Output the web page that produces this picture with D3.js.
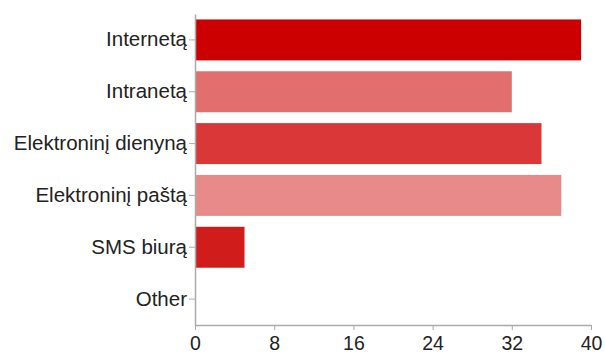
<!DOCTYPE html>
<html lang="lt">
<head>
<meta charset="UTF-8">
<title>Bar chart</title>
<script src="https://d3js.org/d3.v7.min.js"></script>
<style>
  body { margin: 0; background: #fff; }
  text { font-family: "Liberation Sans", Arial, sans-serif; }
</style>
</head>
<body>
<svg id="chart" width="605" height="354"></svg>
<script>
const categories = ["Internetą", "Intranetą", "Elektroninį dienyną", "Elektroninį paštą", "SMS biurą", "Other"];
const values = [39, 32, 35, 37, 5, 0];
const colors = ["#cc0000", "#e36e6e", "#da3838", "#e88a8a", "#d11c1c", "#cc0000"];
const xTicks = [0, 8, 16, 24, 32, 40];

const svg = d3.select("#chart");
const margin = {top: 14, right: 14, bottom: 29, left: 195};
const width = +svg.attr("width") - margin.left - margin.right;
const height = +svg.attr("height") - margin.top - margin.bottom;

const g = svg.append("g")
    .attr("transform", `translate(${margin.left},${margin.top})`);

const x = d3.scaleLinear()
    .domain([0, 40])
    .range([0, width]);

const y = d3.scaleBand()
    .domain(categories)
    .range([0, height])
    .paddingInner(0.21)
    .paddingOuter(0.105);

g.selectAll("rect.bar")
    .data(values)
    .enter()
    .append("rect")
        .attr("class", "bar")
        .attr("x", 1)
        .attr("y", (d, i) => y(categories[i]))
        .attr("width", d => Math.max(0, x(d) - 1))
        .attr("height", y.bandwidth())
        .attr("fill", (d, i) => colors[i]);

const xAxis = g.append("g")
    .attr("transform", `translate(0,${height})`)
    .call(d3.axisBottom(x).tickValues(xTicks).tickSize(5).tickSizeOuter(0).tickPadding(6));

const yAxis = g.append("g")
    .call(d3.axisLeft(y).tickSize(6).tickSizeOuter(0).tickPadding(2));

[xAxis, yAxis].forEach(a => {
    a.select(".domain").attr("stroke", "#aaa").attr("stroke-width", 1.5);
    a.selectAll(".tick line").attr("stroke", "#aaa");
    a.selectAll("text")
        .attr("fill", "#222")
        .style("font-size", "20.5px");
});
xAxis.selectAll("text").style("font-size", "19.5px");
</script>
</body>
</html>
